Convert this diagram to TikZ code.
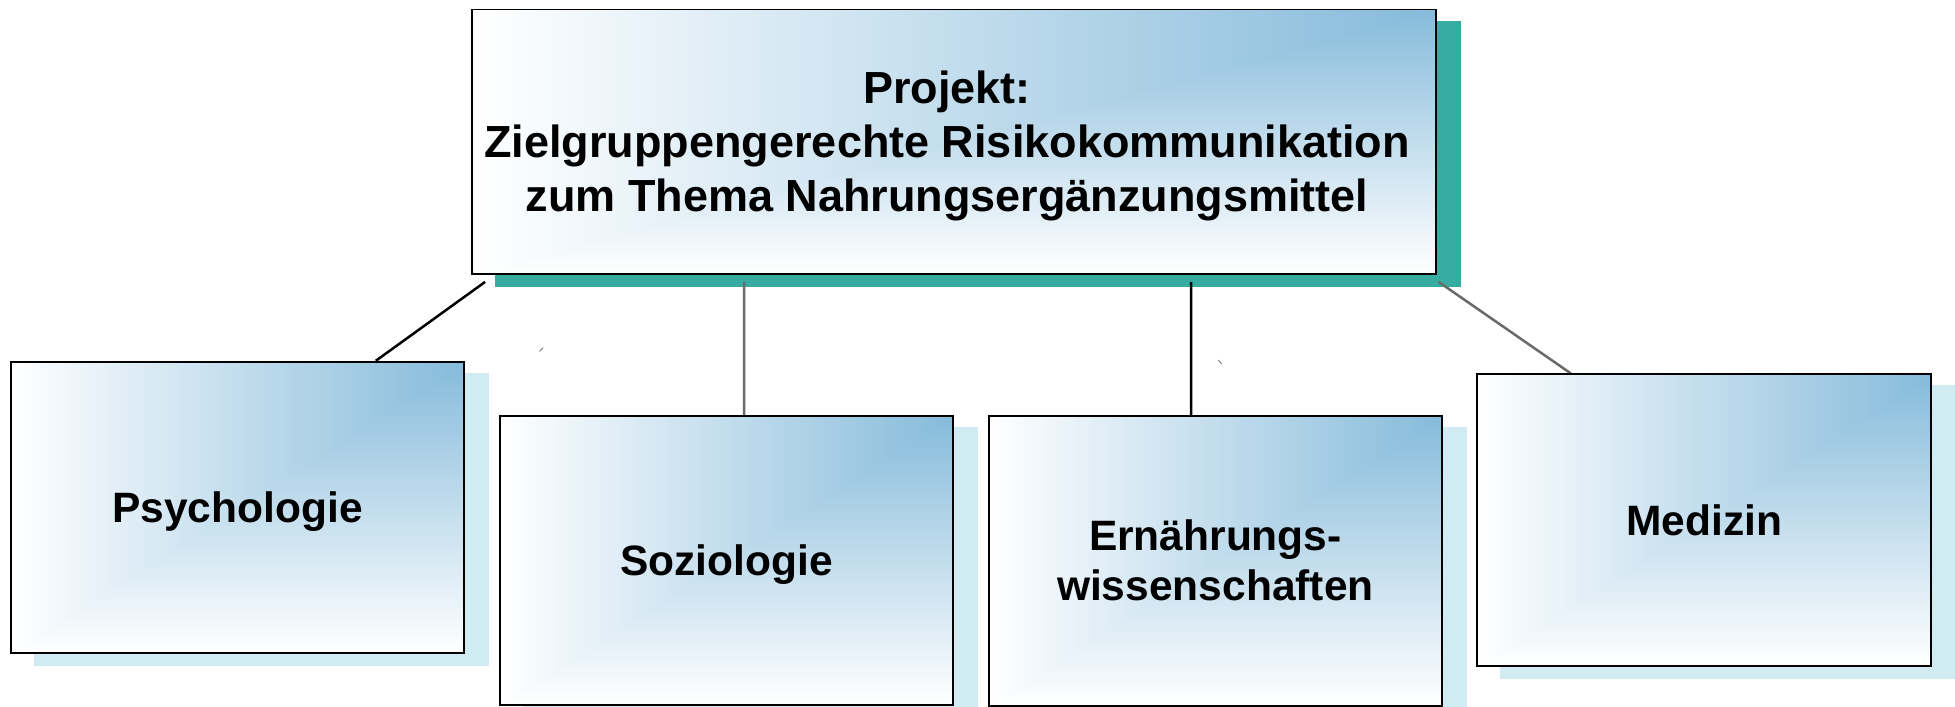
\documentclass[tikz,border=0pt]{standalone}
\usepackage{fontspec}
\setmainfont{Liberation Sans}
\usetikzlibrary{calc,backgrounds}
\pgfdeclarefunctionalshading{cornerblue}{\pgfpoint{-50bp}{-50bp}}{\pgfpoint{50bp}{50bp}}{}{2 copy sub abs 3 1 roll add exch sub 2 div 25 add 50 div dup 0 lt {pop 0} if dup 1 gt {pop 1} if dup 0.475 mul 1 exch sub exch dup 0.267 mul 1 exch sub exch 0.141 mul 1 exch sub}
\definecolor{shadowteal}{HTML}{36ADA0}
\definecolor{shadowcyan}{HTML}{D0ECF2}
\definecolor{linegray}{HTML}{6A6A6A}
\tikzset{
  box/.style={draw=black, line width=1.8pt, shading=cornerblue, inner sep=0pt,
    font=\bfseries\fontsize{42.5}{50}\selectfont, text height=30.4pt, text depth=0pt},
  bigbox/.style={box, font=\bfseries\fontsize{45}{54}\selectfont, text height=140.2pt},
  conndark/.style={draw=black, line width=2.5pt},
  connlight/.style={draw=linegray, line width=2.5pt},
  tick/.style={draw=gray, line width=1pt}
}
\begin{document}
\begin{tikzpicture}[x=1pt,y=-1pt]
\useasboundingbox (0,0) rectangle (1955,707);
\node[bigbox, minimum width=963.4pt, minimum height=264.5pt] (top) at (954,141.75)
  {\begin{tabular}[b]{@{}c@{}}Projekt:\\Zielgruppengerechte Risikokommunikation\\zum Thema Nahrungsergänzungsmittel\end{tabular}\hspace*{14pt}};
\node[box, minimum width=453pt, minimum height=291.6pt] (psy) at (237.5,507.5) {Psychologie};
\node[box, minimum width=452.7pt, minimum height=289.3pt] (soz) at (726.35,560.35) {Soziologie};
\node[box, minimum width=452.7pt, minimum height=290pt, text height=80.4pt] (ern) at (1215.35,560.7)
  {\begin{tabular}[b]{@{}c@{}}Ernährungs-\\wissenschaften\end{tabular}};
\node[box, minimum width=453.7pt, minimum height=291.7pt] (med) at (1704.15,520.15) {Medizin};
\begin{scope}[on background layer]
  \fill[white] (0,0) rectangle (1955,707);
  \fill[shadowteal] ($(top.south west)+(24,12)$) rectangle ($(top.north east)+(24,12)$);
  \fill[shadowcyan] ($(psy.south west)+(24,12)$) rectangle ($(psy.north east)+(24,12)$);
  \fill[shadowcyan] ($(soz.south west)+(24,12)$) rectangle ($(soz.north east)+(24,12)$);
  \fill[shadowcyan] ($(ern.south west)+(24,12)$) rectangle ($(ern.north east)+(24,12)$);
  \fill[shadowcyan] ($(med.south west)+(24,12)$) rectangle ($(med.north east)+(24,12)$);
  \draw[conndark] ($(top.south west)+(13.7,7)$) -- ($(psy.north west)+(365.7,0)$);
  \draw[connlight] ($(top.south west)+(272.7,7)$) -- ($(soz.north west)+(245,0)$);
  \draw[conndark] ($(top.south west)+(719.7,7)$) -- ($(ern.north west)+(203,0)$);
  \draw[connlight] ($(top.south east)+(2,7)$) -- ($(med.north west)+(94.4,0)$);
  \draw[tick] (539.5,351.5) -- (543,347.7);
  \draw[tick] (1218.3,360) -- (1221.7,364);
\end{scope}
\end{tikzpicture}
\end{document}
